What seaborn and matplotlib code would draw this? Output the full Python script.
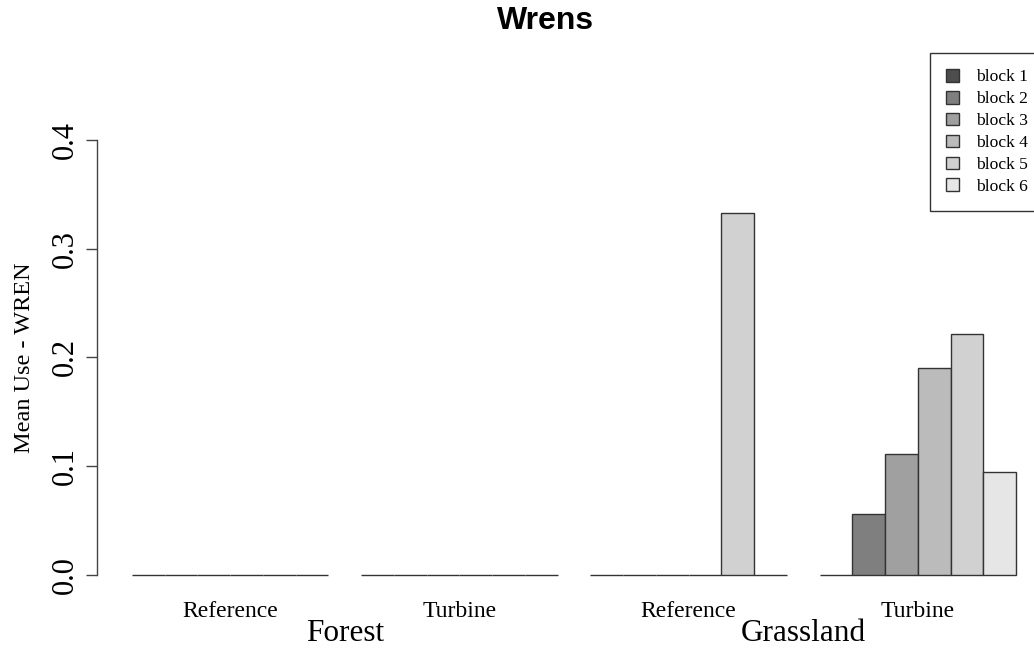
import seaborn as sns
import matplotlib.pyplot as plt
import pandas as pd

# chart data
habitats = ['Forest', 'Forest', 'Grassland', 'Grassland']
sites = ['Reference', 'Turbine', 'Reference', 'Turbine']
blocks = ['block 1', 'block 2', 'block 3', 'block 4', 'block 5', 'block 6']
forest_ref = [0, 0, 0, 0, 0, 0]
forest_turb = [0, 0, 0, 0, 0, 0]
grass_ref = [0, 0, 0, 0, 0.333, 0]
grass_turb = [0, 0.056, 0.111, 0.190, 0.222, 0.095]
block_colors = ['#4d4d4d', '#7f7f7f', '#a0a0a0', '#bbbbbb', '#d1d1d1', '#e6e6e6']

# build a long table for seaborn
rows = []
for hab, site, vals in zip(habitats, sites, [forest_ref, forest_turb, grass_ref, grass_turb]):
    for blk, v in zip(blocks, vals):
        rows.append({'group': hab + ' ' + site, 'block': blk, 'use': v})
df = pd.DataFrame(rows)

sns.set_style('white')
plt.rcParams['font.family'] = ['Liberation Serif', 'DejaVu Serif']
plt.rcParams['text.color'] = 'black'
plt.rcParams['xtick.color'] = 'black'
plt.rcParams['ytick.color'] = 'black'
plt.rcParams['axes.labelcolor'] = 'black'

fig = plt.figure(figsize=(10.34, 6.51), dpi=100)
ax = fig.add_axes([97 / 1034, 0.090, 954 / 1034, 0.7217])

sns.barplot(data=df, x='group', y='use', hue='block', hue_order=blocks, palette=block_colors,
            width=6 / 7, saturation=1, errorbar=None, edgecolor='#333333', linewidth=1.0, ax=ax)

ax.set_xlim(-0.5813, 3.5813)
ax.set_ylim(-0.016, 0.416)

# R-like axes: only left axis, ranging 0 to 0.4
for s in ['top', 'right', 'bottom']:
    ax.spines[s].set_visible(False)
ax.spines['left'].set_bounds(0, 0.4)
ax.spines['left'].set_color('#444444')
ax.spines['left'].set_linewidth(1.0)
ax.set_yticks([0.0, 0.1, 0.2, 0.3, 0.4])
ax.set_yticklabels(['0.0', '0.1', '0.2', '0.3', '0.4'], rotation=90, va='center', fontsize=22)
ax.tick_params(axis='y', direction='out', length=8, width=1.0, color='#444444', pad=4, left=True)

ax.set_xticks([0, 1, 2, 3])
ax.set_xticklabels(sites, fontsize=17)
ax.tick_params(axis='x', length=0, pad=6.5)
ax.set_xlabel('')
ax.set_ylabel('Mean Use - WREN', fontsize=17.5, labelpad=12)

# habitat labels under each pair of sites
for xpos, hab in [(0.5, 'Forest'), (2.5, 'Grassland')]:
    ax.text(xpos, -0.0864, hab, transform=ax.get_xaxis_transform(), ha='center', va='center', fontsize=22.5)

fig.text(546 / 1034, 1 - 21 / 651, 'Wrens', ha='center', va='center', fontsize=23,
         fontweight='bold', color='black', family=['Liberation Sans', 'DejaVu Sans'])

handles, labels = ax.get_legend_handles_labels()
ax.legend(handles, labels, loc='upper left', bbox_to_anchor=(930 / 1034, 1 - 53 / 651),
          bbox_transform=fig.transFigure, fontsize=12.6, frameon=True, fancybox=False,
          edgecolor='#333333', framealpha=1, handlelength=0.75, handleheight=0.75,
          handletextpad=1.0, borderpad=0.9, labelspacing=0.31, borderaxespad=0)
ax.get_legend().get_frame().set_linewidth(1.0)

fig.savefig('out.png', dpi=100)
